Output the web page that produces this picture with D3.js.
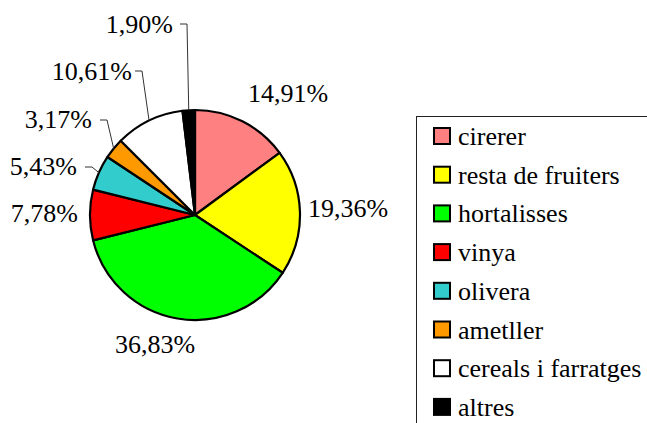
<!DOCTYPE html>
<html>
<head>
<meta charset="utf-8">
<script src="https://cdn.jsdelivr.net/npm/d3@7"></script>
<style>
  html, body { margin: 0; padding: 0; background: #fff; }
  svg { display: block; }
</style>
</head>
<body>
<div id="chart"></div>
<script>
// data
const categories = ["cirerer", "resta de fruiters", "hortalisses", "vinya", "olivera", "ametller", "cereals i farratges", "altres"];
const shares = [14.91, 19.36, 36.83, 7.78, 5.43, 3.17, 10.61, 1.90];
const colors = ["#ff8080", "#ffff00", "#00ff00", "#ff0000", "#33cccc", "#ff9900", "#ffffff", "#000000"];

// layout for the percent labels: x, baseline y, anchor, leader elbow (or null)
const label_layout = [
    {x: 248, y: 102, anchor: "start", elbow: null},
    {x: 308, y: 217, anchor: "start", elbow: null},
    {x: 115, y: 353, anchor: "start", elbow: null},
    {x: 78,  y: 222, anchor: "end",   elbow: null},
    {x: 77,  y: 175, anchor: "end",   elbow: [92, 167]},
    {x: 92,  y: 128, anchor: "end",   elbow: [107, 120]},
    {x: 132, y: 80,  anchor: "end",   elbow: [142, 71]},
    {x: 173, y: 33,  anchor: "end",   elbow: [187, 24]},
];

const FONT = "Liberation Serif";
const FONT_SIZE = 26;

const width = 647, height = 423;
const cx = 195, cy = 215, radius = 105;

const fmt = v => v.toFixed(2).replace(".", ",") + "%";

const svg = d3.select("#chart").append("svg")
    .attr("width", width).attr("height", height);

const rows = categories.map((c, i) => ({name: c, value: shares[i], color: colors[i]}));

const pie = d3.pie().sort(null).value(d => d.value);
const arc = d3.arc().innerRadius(0).outerRadius(radius);
const arcs = pie(rows);

const pie_grp = svg.append("g").attr("transform", `translate(${cx},${cy})`);

pie_grp.selectAll(".slice")
    .data(arcs)
    .join("path")
    .attr("class", "slice")
    .attr("d", arc)
    .attr("fill", d => d.data.color)
    .attr("stroke", "#000")
    .attr("stroke-width", 2.2)
    .attr("stroke-linejoin", "round");

// leader lines for the small slices
const leaders = svg.append("g").attr("class", "leaders");
arcs.forEach((d, i) => {
    const lay = label_layout[i];
    if(!lay.elbow) return;
    const mid = (d.startAngle + d.endAngle) / 2;
    const end = [cx + radius * Math.sin(mid), cy - radius * Math.cos(mid)];
    const pts = [[lay.elbow[0] - 7, lay.elbow[1]], lay.elbow, end];
    leaders.append("path")
        .attr("d", d3.line()(pts))
        .attr("fill", "none")
        .attr("stroke", "#333")
        .attr("stroke-width", 1);
});

svg.append("g").selectAll("text")
    .data(arcs)
    .join("text")
    .attr("x", (d, i) => label_layout[i].x)
    .attr("y", (d, i) => label_layout[i].y)
    .attr("text-anchor", (d, i) => label_layout[i].anchor)
    .attr("font-family", FONT)
    .attr("font-size", FONT_SIZE)
    .attr("fill", "#000")
    .text(d => fmt(d.data.value));

// legend (runs off the right and bottom edges, as in the source)
const legend = svg.append("g").attr("class", "legend");
legend.append("rect")
    .attr("x", 416.5).attr("y", 116.5)
    .attr("width", 300).attr("height", 400)
    .attr("fill", "#fff")
    .attr("stroke", "#222")
    .attr("stroke-width", 1);

const row_y = d3.scaleLinear().domain([0, 1]).range([136, 174.7]);

const items = legend.selectAll(".item")
    .data(rows)
    .join("g")
    .attr("class", "item")
    .attr("transform", (d, i) => `translate(434,${row_y(i)})`);

items.append("rect")
    .attr("x", 0).attr("y", -8)
    .attr("width", 16).attr("height", 16)
    .attr("fill", d => d.color)
    .attr("stroke", "#000")
    .attr("stroke-width", 2);

items.append("text")
    .attr("x", 24).attr("y", 9)
    .attr("font-family", FONT)
    .attr("font-size", FONT_SIZE)
    .attr("fill", "#000")
    .text(d => d.name);
</script>
</body>
</html>
